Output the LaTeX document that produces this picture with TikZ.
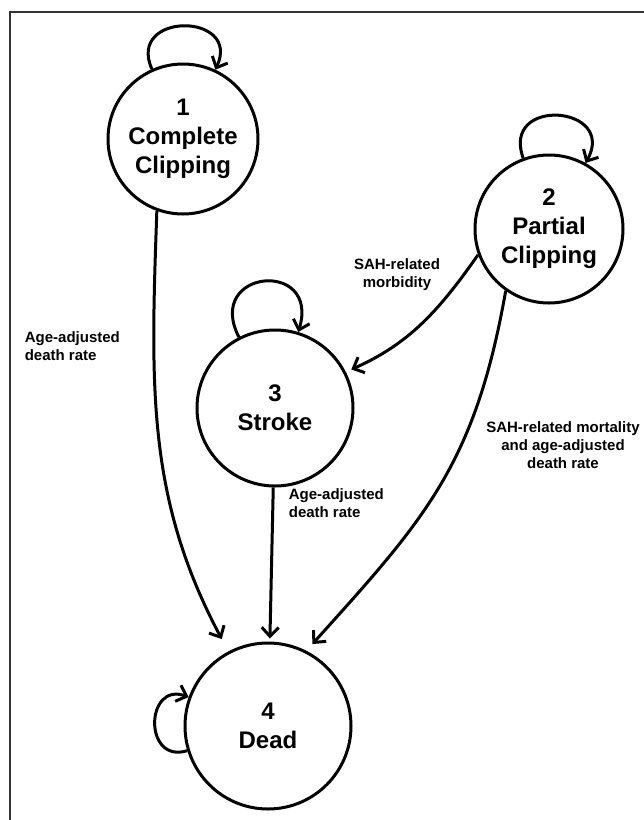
\documentclass[tikz,border=0pt]{standalone}
\usepackage{fontspec}
\setmainfont{Liberation Sans}
\usetikzlibrary{arrows.meta}

\begin{document}
\begin{tikzpicture}[x=1pt,y=-1pt,->,>={Straight Barb[length=9pt,width=17pt]},
                    line width=3pt,
                    main node/.style={circle,draw,inner sep=0pt,align=center,
                                      font=\bfseries\fontsize{24}{29}\selectfont},
                    rate/.style={font=\bfseries\fontsize{15}{18}\selectfont}]
  \useasboundingbox (0,0) rectangle (644,820);
  \draw[-,line width=1.5pt,black!80] (10,820) -- (10,12) -- (644,12);

  \node[main node,minimum size=150pt] (1) at (183,139) {1\\Complete\\Clipping};
  \node[main node,minimum size=148pt] (2) at (549,229) {2\\Partial\\Clipping};
  \node[main node,minimum size=156pt] (3) at (275,408) {3\\Stroke};
  \node[main node,minimum size=166pt] (4) at (268,726) {4\\Dead};

  \node[rate,align=left,anchor=west] (r1) at (20,346) {Age-adjusted\\death rate};
  \node[rate,align=center] (r2) at (397,275) {SAH-related\\morbidity};
  \node[rate,align=left,anchor=west] (r3) at (284,503) {Age-adjusted\\death rate};
  \node[rate,align=center] (r4) at (563,445) {SAH-related mortality\\and age-adjusted\\death rate};

  \path
    (1) edge [out=114,in=65,looseness=2.55] (1)
    (1.250) edge [out=268,in=118,shorten >=14pt] (4)
    (2) edge [out=110,in=61,looseness=2.7] (2)
    (2.200) edge [out=235,in=24,shorten >=6pt] (3.27)
    (2.235) edge [out=260,in=48,looseness=1.1,shorten >=9pt] (4.63)
    (3) edge [out=117,in=73,looseness=3.3] (3)
        edge [shorten >=3pt] (4)
    (4) edge [out=197,in=160,looseness=2.2] (4);
\end{tikzpicture}
\end{document}
